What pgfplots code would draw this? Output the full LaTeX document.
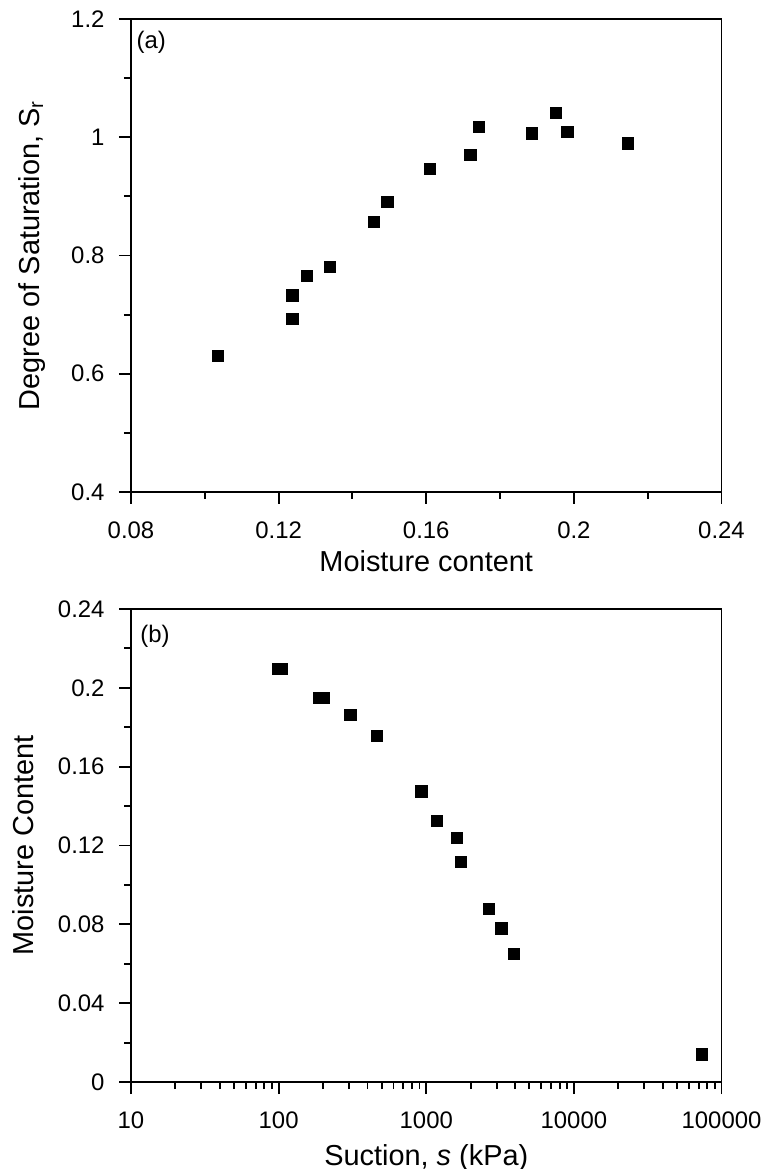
\documentclass[border=0pt]{standalone}
\usepackage{fontspec}
\setmainfont{Liberation Sans}
\usepackage{pgfplots}
\pgfplotsset{compat=1.18}

\newcommand{\tickfont}{\fontsize{24}{28}\selectfont}

\pgfplotsset{
  panel/.style={
    scale only axis,
    width=590.5bp, height=473bp,
    anchor=south west,
    axis line style={line width=1.9bp},
    tick style={line width=1.9bp, black},
    tick align=outside,
    xtick pos=bottom, ytick pos=left,
    major tick length=12bp, minor tick length=7bp,
    /pgf/number format/assume math mode=true,
    tick label style={font=\tickfont},
    xticklabel style={yshift=-14bp},
    yticklabel style={xshift=-11bp},
    label style={font=\fontsize{29}{34}\selectfont},
    xlabel style={anchor=base},
    ylabel style={anchor=base},
  },
  sq/.style={only marks, mark=square*, mark size=5.6bp,
    mark options={fill=black, draw=black, line width=0.4bp}},
}

\begin{document}
\begin{tikzpicture}
\useasboundingbox (0,0) rectangle (765bp,1169bp);

% (a) degree of saturation vs moisture content
\begin{axis}[panel,
  at={(131bp,677bp)},
  xmin=0.08, xmax=0.24, ymin=0.4, ymax=1.2,
  xtick={0.08,0.12,0.16,0.2,0.24},
  xticklabels={0.08,0.12,0.16,0.2,0.24},
  ytick={0.4,0.6,0.8,1,1.2},
  yticklabels={0.4,0.6,0.8,1,1.2},
  minor x tick num=1, minor y tick num=1,
  xlabel={Moisture content},
  ylabel={Degree of Saturation, S\textsubscript{r}},
  xlabel style={at={(axis description cs:0.5,-0.169)}},
  ylabel style={at={(axis description cs:-0.1553,0.5)}},
]
\addplot[sq] coordinates {
(0.1034,0.630) (0.1237,0.693) (0.1237,0.733) (0.1275,0.766)
(0.1339,0.781) (0.1457,0.857) (0.1494,0.891) (0.1609,0.947)
(0.1719,0.970) (0.1743,1.018) (0.1885,1.007) (0.1951,1.042)
(0.1982,1.010) (0.2146,0.990)
};
\node[anchor=base west, inner sep=0pt, font=\fontsize{24}{28}\selectfont]
  at (axis description cs:0.0093,0.9366) {(a)};
\end{axis}

% (b) moisture content vs suction
\begin{axis}[panel,
  at={(131bp,87bp)},
  xmode=log,
  xmin=10, xmax=100000, ymin=0, ymax=0.24,
  xtick={10,100,1000,10000,100000},
  xticklabels={10,100,1000,10000,100000},
  ytick={0,0.04,0.08,0.12,0.16,0.2,0.24},
  yticklabels={0,0.04,0.08,0.12,0.16,0.2,0.24},
  minor y tick num=1,
  xlabel={Suction, \textit{s} (kPa)},
  ylabel={Moisture Content},
  xlabel style={at={(axis description cs:0.5,-0.1755)}},
  ylabel style={at={(axis description cs:-0.1654,0.5)}},
]
\addplot[sq] coordinates {
(98,0.2098) (104,0.2098) (186,0.1948) (202,0.1948)
(305,0.1864) (462,0.1757) (923,0.1476) (1178,0.1326)
(1607,0.1238) (1710,0.1119) (2649,0.0881) (3222,0.0780)
(3890,0.0653) (73600,0.0141)
};
\node[anchor=base west, inner sep=0pt, font=\fontsize{24}{28}\selectfont]
  at (axis description cs:0.0156,0.9294) {(b)};
\end{axis}
\end{tikzpicture}
\end{document}
